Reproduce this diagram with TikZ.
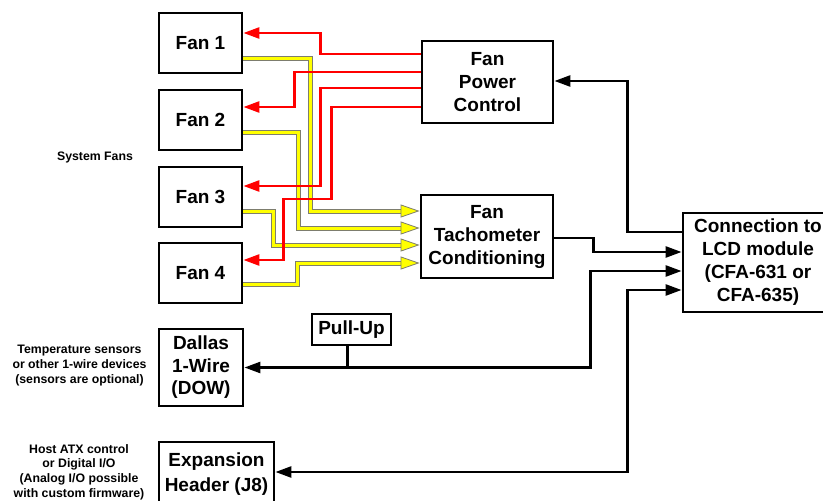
\documentclass[tikz,border=0pt]{standalone}
\usepackage{fontspec}
\setmainfont{Liberation Sans}
\usepackage{tikz}
\usetikzlibrary{arrows.meta}
\definecolor{wirered}{RGB}{255,0,0}
\definecolor{wireyel}{RGB}{255,255,0}
\definecolor{wireedge}{RGB}{125,125,110}
\tikzset{
  blk_box/.style = {align=center, inner sep=0pt, text centered, draw=black,
    line width=2.8pt, fill=white, font=\fontsize{19}{23}\selectfont\bfseries},% boite noire
  fan_box/.style = {blk_box, minimum width=83pt, minimum height=60pt},% ventilateur
  note_txt/.style = {align=center, inner sep=0pt, text centered,
    font=\fontsize{12.3}{15.2}\selectfont\bfseries},% texte a gauche
  blk_wire/.style = {draw=black, line width=2.6pt},
  red_wire/.style = {draw=wirered, line width=2.6pt, ->},
  yel_wire/.style = {draw=wireyel, line width=3pt,
    preaction={draw=wireedge, line width=5pt, arrows=-, shorten >=17pt},
    -{Triangle[length=19pt, width=13pt, fill=wireyel, color=wireedge, line width=0.8pt]}}% tachymetre
}

\begin{document}
\begin{tikzpicture} [x=1pt, y=-1pt, >={Triangle[length=16pt, width=11pt]}]
		\useasboundingbox (0,0) rectangle (823,501);
		% blocs
		\node [fan_box] (fan1) at (200.5,43) {Fan 1};
		\node [fan_box] (fan2) at (200.5,120) {Fan 2};
		\node [fan_box] (fan3) at (200.5,197) {Fan 3};
		\node [fan_box] (fan4) at (200.5,273) {Fan 4};
		\node [blk_box, minimum width=131pt, minimum height=82pt] (power) at (487.5,82) {Fan\\Power\\Control};
		\node [blk_box, minimum width=132pt, minimum height=83pt] (tach) at (487,236.5) {Fan\\Tachometer\\Conditioning};
		\node [blk_box, minimum width=150pt, minimum height=99pt] (lcd) at (758,262.5) {Connection to\\LCD module\\(CFA-631 or\\CFA-635)};
		\node [blk_box, minimum width=79pt, minimum height=31pt] (pullup) at (351.5,329.5) {Pull-Up};
		\node [blk_box, minimum width=84pt, minimum height=77pt, font=\fontsize{19}{22.5}\selectfont\bfseries] (dallas) at (201,367.5) {Dallas\\1-Wire\\(DOW)};
		\node [blk_box, minimum width=115pt, minimum height=65pt, font=\fontsize{19}{25}\selectfont\bfseries] (expansion) at (216.5,474.5) {Expansion\\Header (J8)};
		% textes
		\node [note_txt] (fansnote) at (95,157) {System Fans};
		\node [note_txt] (tempnote) at (79.5,365.5) {Temperature sensors\\or other 1-wire devices\\(sensors are optional)};
		\node [note_txt, font=\fontsize{12.3}{14.7}\selectfont\bfseries] (hostnote) at (79,472) {Host ATX control\\or Digital I/O\\(Analog I/O possible\\with custom firmware)};
		% tachymetre
		\draw [yel_wire] ([yshift=-15pt]fan1.east) -- ++(67,0) |- ([yshift=25.5pt]tach.west);
		\draw [yel_wire] ([yshift=-12pt]fan2.east) -- ++(55,0) |- ([yshift=8.5pt]tach.west);
		\draw [yel_wire] ([yshift=-14pt]fan3.east) -- ++(30,0) |- ([yshift=-8.5pt]tach.west);
		\draw [yel_wire] ([yshift=-11pt]fan4.east) -- ++(54,0) |- ([yshift=-26.5pt]tach.west);
		% alimentation
		\draw [red_wire] ([yshift=28pt]power.west) -- ++(-100,0) |- ([yshift=10pt]fan1.east);
		\draw [red_wire] ([yshift=10pt]power.west) -- ++(-126,0) |- ([yshift=13pt]fan2.east);
		\draw [red_wire] ([yshift=-6pt]power.west) -- ++(-100,0) |- ([yshift=11pt]fan3.east);
		\draw [red_wire] ([yshift=-25pt]power.west) -- ++(-89,0) -- ++(0,92) -- ++(-48,0) |- ([yshift=13pt]fan4.east);
		% liaisons
		\draw [blk_wire, ->] ([yshift=30.5pt]lcd.west) -- ++(-54,0) |- ([yshift=1pt]power.east);
		\draw [blk_wire, ->] ([yshift=-1.5pt]tach.east) -- ++(39,0) |- ([yshift=10.5pt]lcd.west);
		\draw [blk_wire, <->] ([yshift=-8.5pt]lcd.west) -- ++(-91,0) |- (dallas.east);
		\draw [blk_wire, <->] ([yshift=-27.5pt]lcd.west) -- ++(-54,0) |- ([yshift=2.5pt]expansion.east);
		\draw [blk_wire] ([xshift=-4pt]pullup.south) -- ([xshift=-4pt]pullup.south |- dallas.east);
	\end{tikzpicture}
\end{document}
